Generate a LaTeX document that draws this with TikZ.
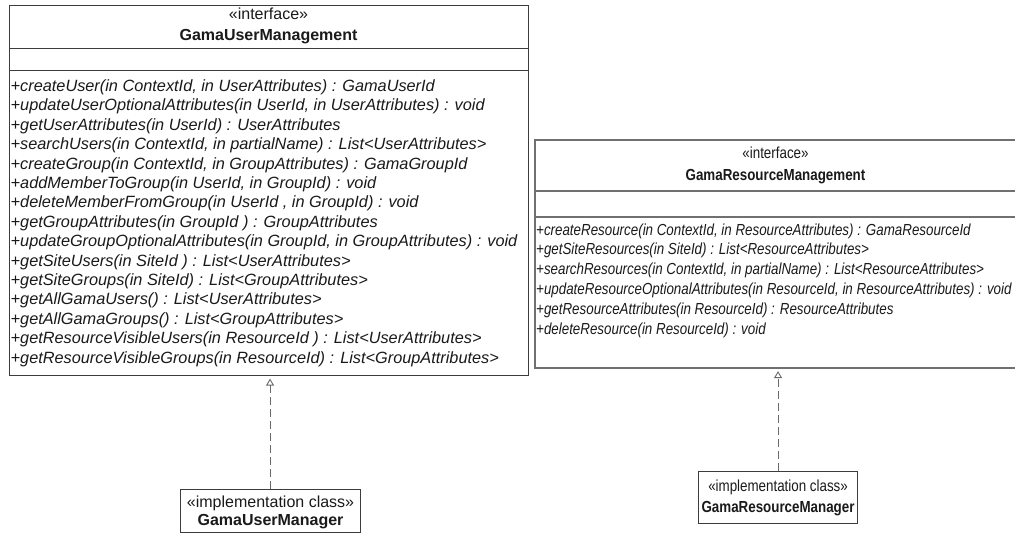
\documentclass[tikz,border=0pt]{standalone}
\usepackage{fontspec}
\setmainfont{Liberation Sans}
\newfontfamily\narrowfont[FakeStretch=0.835]{Liberation Sans}
\usetikzlibrary{arrows.meta}
\definecolor{ink}{HTML}{1A1A1A}
\definecolor{edgeL}{HTML}{3C3C3C}
\definecolor{edgeR}{HTML}{707070}
\definecolor{dashc}{HTML}{6A6A6A}
\tikzset{
  boxL/.style={draw=edgeL, line width=1.1pt, inner sep=0pt, anchor=north west, fill=white},
  boxR/.style={draw=edgeR, line width=1.6pt, inner sep=0pt, anchor=north west, fill=white},
  sepL/.style={draw=edgeL, line width=1pt},
  sepR/.style={draw=edgeR, line width=1.5pt},
  txt/.style={inner sep=0pt, text=ink, font=\fontsize{16}{18}\selectfont},
  meth/.style={txt, anchor=base west, font=\fontsize{16.3}{18}\selectfont\itshape},
  methR/.style={txt, anchor=base west, font=\fontsize{16}{18}\selectfont\narrowfont\itshape},
  stereo/.style={txt, anchor=base},
  cname/.style={txt, anchor=base, font=\fontsize{16}{18}\selectfont\bfseries},
  realize/.style={draw=dashc, line width=0.9pt, dash pattern=on 8pt off 4pt,
    -{Triangle[open, length=7pt, width=8pt, line width=0.9pt]}, shorten >=2.5pt}
}
\begin{document}
\begin{tikzpicture}[x=1pt, y=-1pt]
\clip (0,0) rectangle (1015,533);
\fill[white] (0,0) rectangle (1015,533);

% ---- interface GamaUserManagement ----
\node[boxL, minimum width=519pt, minimum height=370pt] (ium) at (9,5) {};
\path[sepL] (ium.west |- 0,48) -- (ium.east |- 0,48);
\path[sepL] (ium.west |- 0,70) -- (ium.east |- 0,70);
\node[stereo] (iumst) at (268.5,19) {«interface»};
\node[cname] (iumnm) at (268.5,40) {GamaUserManagement};
\foreach \t [count=\i from 0] in {
  {+createUser(in ContextId, in UserAttributes) : GamaUserId},
  {+updateUserOptionalAttributes(in UserId, in UserAttributes) : void},
  {+getUserAttributes(in UserId) : UserAttributes},
  {+searchUsers(in ContextId, in partialName) : List<UserAttributes>},
  {+createGroup(in ContextId, in GroupAttributes) : GamaGroupId},
  {+addMemberToGroup(in UserId, in GroupId) : void},
  {+deleteMemberFromGroup(in UserId , in GroupId) : void},
  {+getGroupAttributes(in GroupId ) : GroupAttributes},
  {+updateGroupOptionalAttributes(in GroupId, in GroupAttributes) : void},
  {+getSiteUsers(in SiteId ) : List<UserAttributes>},
  {+getSiteGroups(in SiteId) : List<GroupAttributes>},
  {+getAllGamaUsers() : List<UserAttributes>},
  {+getAllGamaGroups() : List<GroupAttributes>},
  {+getResourceVisibleUsers(in ResourceId ) : List<UserAttributes>},
  {+getResourceVisibleGroups(in ResourceId) : List<GroupAttributes>}}
  \node[meth] (um\i) at (10.5,{91.5+19.4*\i}) {\t};

% ---- interface GamaResourceManagement ----
\node[boxR, minimum width=484pt, minimum height=228pt] (irm) at (534,139) {};
\path[sepR] (irm.west |- 0,191) -- (irm.east |- 0,191);
\path[sepR] (irm.west |- 0,217) -- (irm.east |- 0,217);
\node[stereo, font=\fontsize{16}{18}\selectfont\narrowfont] (irmst) at (775.5,158.5) {«interface»};
\node[cname, font=\fontsize{16}{18}\selectfont\narrowfont\bfseries] (irmnm) at (775.5,180) {GamaResourceManagement};
\foreach \t [count=\i from 0] in {
  {+createResource(in ContextId, in ResourceAttributes) : GamaResourceId},
  {+getSiteResources(in SiteId) : List<ResourceAttributes>},
  {+searchResources(in ContextId, in partialName) : List<ResourceAttributes>},
  {+updateResourceOptionalAttributes(in ResourceId, in ResourceAttributes) : void},
  {+getResourceAttributes(in ResourceId) : ResourceAttributes},
  {+deleteResource(in ResourceId) : void}}
  \node[methR] (rm\i) at (536,{235+19.8*\i}) {\t};

% ---- implementation class GamaUserManager ----
\node[boxL, minimum width=180pt, minimum height=43pt] (um) at (180,489) {};
\node[stereo] (umst) at (um.north |- 0,507.5) {«implementation class»};
\node[cname] (umnm) at (um.north |- 0,525.5) {GamaUserManager};

% ---- implementation class GamaResourceManager ----
\node[boxL, minimum width=159pt, minimum height=52pt] (rmgr) at (698,471) {};
\node[stereo, font=\fontsize{16}{18}\selectfont\narrowfont] (rmst) at (rmgr.north |- 0,491) {«implementation class»};
\node[cname, font=\fontsize{16}{18}\selectfont\narrowfont\bfseries] (rmnm) at (rmgr.north |- 0,512.5) {GamaResourceManager};

% ---- realizations ----
\draw[realize] ([xshift=-0.5pt]um.north) -- ([xshift=-0.5pt]um.north |- ium.south);
\draw[realize] (rmgr.north) -- (rmgr.north |- irm.south);
\end{tikzpicture}
\end{document}
